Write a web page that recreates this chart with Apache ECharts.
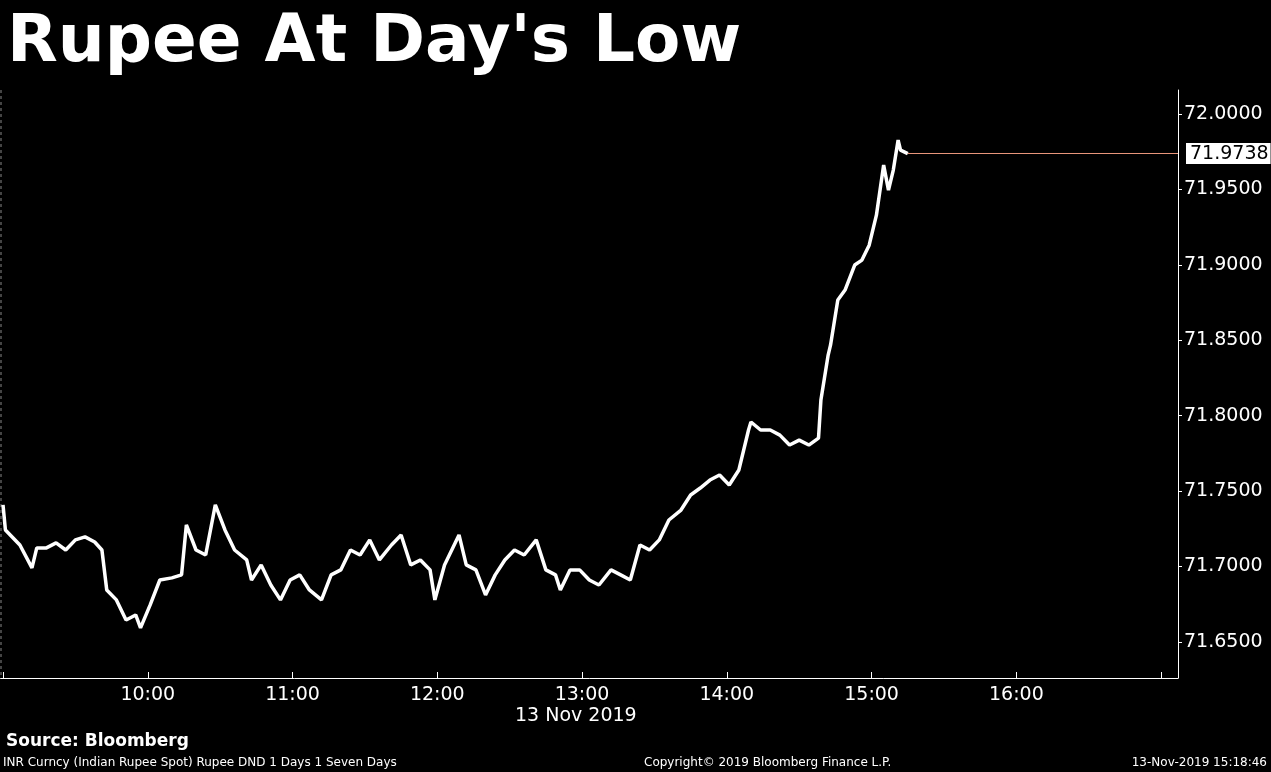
<!DOCTYPE html>
<html><head><meta charset="utf-8">
<script src="https://cdn.jsdelivr.net/npm/echarts@6/dist/echarts.min.js"></script>
<style>html,body{margin:0;background:#000;}#c{width:1271px;height:772px;}</style>
</head><body><div id="c"></div>
<script>
// minutes after 09:00 on 13 Nov 2019
const minutes = [0,1,3,7,12,14,18,22,26,30,34,38,41,43,47,51,55,57,61,65,70,74,76,80,84,88,92,96,101,103,107,111,115,119,123,127,132,136,140,144,148,152,156,161,165,169,173,177,179,183,189,192,196,200,204,208,212,216,221,225,229,231,235,239,243,247,252,256,260,264,268,272,276,281,285,289,293,297,301,305,309,310,314,318,322,326,330,334,338,339,342,343,346,349,353,356,359,362,365,367,369,371,372,375];
const values = [71.7408,71.7242,71.7209,71.7142,71.6990,71.7123,71.7123,71.7156,71.7109,71.7176,71.7196,71.7162,71.7109,71.6844,71.6778,71.6645,71.6678,71.6592,71.6745,71.6910,71.6924,71.6944,71.7275,71.7109,71.7076,71.7408,71.7242,71.7109,71.7043,71.6910,71.7010,71.6877,71.6778,71.6910,71.6944,71.6844,71.6778,71.6944,71.6977,71.7109,71.7076,71.7176,71.7043,71.7142,71.7209,71.7010,71.7043,71.6977,71.6778,71.7010,71.7209,71.7010,71.6977,71.6811,71.6944,71.7043,71.7109,71.7076,71.7176,71.6977,71.6944,71.6844,71.6977,71.6977,71.6910,71.6877,71.6977,71.6944,71.6910,71.7142,71.7109,71.7176,71.7308,71.7374,71.7474,71.7520,71.7573,71.7606,71.7540,71.7640,71.7905,71.7958,71.7905,71.7905,71.7871,71.7805,71.7838,71.7805,71.7851,71.8104,71.8402,71.8469,71.8767,71.8833,71.8999,71.9032,71.9131,71.9330,71.9662,71.9496,71.9629,71.9828,71.9761,71.9738];
const hourLabels = ['10:00','11:00','12:00','13:00','14:00','15:00','16:00'];
const lastValue = 71.9738;

const base = Date.UTC(2019,10,13,9,0);
const data = minutes.map((m,i)=>[base+m*60000, values[i]]);
const xMin = base - 1*60000, xMax = base + 487*60000;
const font = '"DejaVu Sans", sans-serif';
const chart = echarts.init(document.getElementById('c'));
chart.setOption({
  backgroundColor:'#000', animation:false,
  title:{text:"Rupee At Day's Low",left:2,top:6,textStyle:{color:'#fff',fontSize:66,fontWeight:'bold',fontFamily:'Verdana, "DejaVu Sans", sans-serif'}},
  graphic:[
    {type:'text',left:515,top:707,style:{text:'13 Nov 2019',fill:'#fff',font:'19px '+font}},
    {type:'text',left:6,top:733,style:{text:'Source: Bloomberg',fill:'#fff',font:'bold 17px "DejaVu Sans", sans-serif'}},
    {type:'text',left:3,top:757,style:{text:'INR Curncy (Indian Rupee Spot) Rupee DND 1 Days 1 Seven Days',fill:'#fff',font:'12px '+font}},
    {type:'text',left:644,top:757,style:{text:'Copyright© 2019 Bloomberg Finance L.P.',fill:'#fff',font:'12px '+font}},
    {type:'text',right:4,top:757,style:{text:'13-Nov-2019 15:18:46',fill:'#fff',font:'12px '+font}},
    {type:'line',shape:{x1:1,y1:90,x2:1,y2:678},style:{stroke:'#888',lineDash:[3,3],lineWidth:1}}
  ],
  grid:{left:0,right:93,top:90,bottom:94},
  xAxis:{type:'time',min:xMin,max:xMax,interval:1800000,
    axisLine:{lineStyle:{color:'#fff',width:1}},
    axisTick:{show:true,inside:true,length:6,lineStyle:{color:'#fff'}},
    splitLine:{show:false},
    axisLabel:{color:'#fff',fontSize:19,fontFamily:font,margin:8,
      formatter:v=>{const d=new Date(v);if(d.getUTCMinutes()!==0)return '';const h=d.getUTCHours();const s=(h<10?'0':'')+h+':00';return hourLabels.includes(s)?s:'';}}},
  yAxis:{type:'value',position:'right',min:71.626,max:72.016,splitNumber:8,
    axisLine:{show:true,lineStyle:{color:'#fff'}},
    axisTick:{show:true,length:4,lineStyle:{color:'#fff'}},
    splitLine:{show:false},
    axisLabel:{color:'#fff',fontSize:19,fontFamily:font,margin:6,showMinLabel:false,showMaxLabel:false,
      formatter:v=>{const r=Math.round(v*100)/100; return Math.abs(r-v)<1e-6? v.toFixed(4):'';}}},
  series:[{type:'line',data:data,showSymbol:false,lineStyle:{color:'#fff',width:3.5},
    markLine:{silent:true,symbol:['none','none'],
      label:{show:true,position:'end',formatter:lastValue.toFixed(4),color:'#000',backgroundColor:'#fff',fontSize:19,fontFamily:font,padding:[1,2,1,4],distance:8},
      data:[[{coord:[data[data.length-1][0],lastValue],lineStyle:{color:'#e8957a',width:1,type:'solid',opacity:1}},{coord:[xMax,lastValue]}]]}}]
});
</script></body></html>
